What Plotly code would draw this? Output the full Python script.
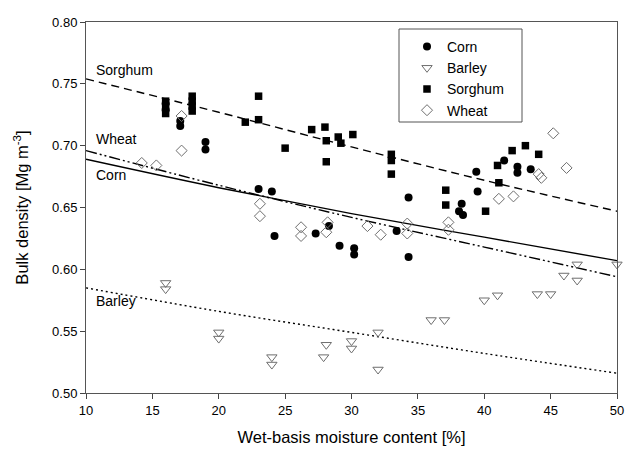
import plotly.graph_objects as go

# Measured bulk density vs wet-basis moisture content
corn_x = [16, 16, 17.1, 17.1, 19, 19, 23, 24, 24.2, 27.3, 28.3, 29.1, 30.2, 30.2,
          33.4, 34.3, 34.3, 38.1, 38.3, 38.4, 39.4, 39.5, 41.5, 42.5, 42.5, 43.5]
corn_y = [0.734, 0.729, 0.720, 0.716, 0.703, 0.697, 0.665, 0.663, 0.627, 0.629,
          0.635, 0.619, 0.617, 0.612, 0.631, 0.658, 0.610, 0.647, 0.653, 0.644,
          0.679, 0.663, 0.688, 0.683, 0.678, 0.681]

barley_x = [16, 16, 20, 20, 24, 24, 28.1, 27.9, 30, 30, 32, 32, 36, 37, 40, 41,
            44, 45, 46, 47, 47, 50]
barley_y = [0.589, 0.584, 0.549, 0.544, 0.529, 0.523, 0.539, 0.529, 0.542, 0.536,
            0.549, 0.519, 0.559, 0.559, 0.575, 0.579, 0.580, 0.580, 0.595, 0.591,
            0.604, 0.604]

sorghum_x = [16, 16, 16, 18, 18, 18, 18, 22, 23, 23, 25, 27, 28, 28.1, 28.1, 29,
             29.2, 30.1, 33, 33, 33, 37.1, 37.1, 40.1, 41, 41.1, 42.1, 43.1, 44.1]
sorghum_y = [0.736, 0.731, 0.726, 0.740, 0.736, 0.732, 0.728, 0.719, 0.740, 0.721,
             0.698, 0.713, 0.715, 0.704, 0.687, 0.707, 0.702, 0.709, 0.693, 0.688,
             0.677, 0.664, 0.652, 0.647, 0.684, 0.670, 0.696, 0.700, 0.693]

wheat_x = [14.2, 15.3, 17.2, 17.2, 23.1, 23.1, 26.2, 26.2, 28.2, 28.1, 31.2, 32.2,
           34.2, 34.2, 37.3, 37.3, 41.1, 42.2, 44.1, 44.3, 45.2, 46.2]
wheat_y = [0.686, 0.684, 0.724, 0.696, 0.653, 0.643, 0.634, 0.627, 0.638, 0.630,
           0.635, 0.628, 0.637, 0.629, 0.638, 0.632, 0.657, 0.659, 0.677, 0.674,
           0.710, 0.682]

# Fitted trend curves, sampled along the moisture range
fit_x = [10, 20, 30, 40, 50]
fit_sorghum = [0.754, 0.727, 0.699, 0.672, 0.647]
fit_wheat = [0.696, 0.668, 0.642, 0.618, 0.594]
fit_corn = [0.689, 0.666, 0.645, 0.626, 0.607]
fit_barley = [0.585, 0.566, 0.549, 0.532, 0.516]

x_ticks = [10, 15, 20, 25, 30, 35, 40, 45, 50]
y_ticks = [0.50, 0.55, 0.60, 0.65, 0.70, 0.75, 0.80]

FONT = "Liberation Sans, Arial, sans-serif"
GRAY = "#6e6e6e"

# plot-area geometry in pixels (used for paper-coordinate placement)
W, H = 625, 454
ML, MR, MT, MB = 86, 8, 22, 61
PW, PH = W - ML - MR, H - MT - MB


def px_to_paper(px, py):
    return (px - ML) / PW, (H - MB - py) / PH


fig = go.Figure()

# trend curves (no legend entries)
curve_styles = [
    (fit_sorghum, "8px,5px"),
    (fit_wheat, "11px,3px,2px,3px,2px,3px"),
    (fit_corn, "solid"),
    (fit_barley, "2px,3px"),
]
for ys, dash in curve_styles:
    fig.add_trace(go.Scatter(x=fit_x, y=ys, mode="lines", showlegend=False,
                             line=dict(color="black", width=1.4, dash=dash, shape="spline"),
                             hoverinfo="skip"))

fig.add_trace(go.Scatter(x=corn_x, y=corn_y, mode="markers", name="Corn",
                         marker=dict(symbol="circle", size=8, color="black"),
                         cliponaxis=False))
fig.add_trace(go.Scatter(x=barley_x, y=barley_y, mode="markers", name="Barley",
                         marker=dict(symbol="triangle-down-open", size=9, color=GRAY,
                                     line=dict(width=1, color=GRAY)),
                         cliponaxis=False))
fig.add_trace(go.Scatter(x=sorghum_x, y=sorghum_y, mode="markers", name="Sorghum",
                         marker=dict(symbol="square", size=7.5, color="black"),
                         cliponaxis=False))
fig.add_trace(go.Scatter(x=wheat_x, y=wheat_y, mode="markers", name="Wheat",
                         marker=dict(symbol="diamond-open", size=8.5, color=GRAY,
                                     line=dict(width=1, color=GRAY)),
                         cliponaxis=False))

# curve labels
for txt, yv in [("Sorghum", 0.761), ("Wheat", 0.705), ("Corn", 0.676), ("Barley", 0.574)]:
    fig.add_annotation(x=10.6, y=yv, text=txt, showarrow=False, xanchor="left",
                       yanchor="middle", font=dict(size=14, color="black", family=FONT))

# legend frame
bx0, by0 = px_to_paper(399, 122)
bx1, by1 = px_to_paper(522, 29)
fig.add_shape(type="rect", xref="paper", yref="paper", x0=bx0, x1=bx1, y0=by0, y1=by1,
              line=dict(color="#555555", width=1), fillcolor="white", layer="below")

lx, ly = px_to_paper(407, 31)

fig.update_layout(
    width=W, height=H,
    margin=dict(l=ML, r=MR, t=MT, b=MB, autoexpand=False),
    paper_bgcolor="white", plot_bgcolor="white",
    font=dict(family=FONT, size=13, color="black"),
    showlegend=True,
    legend=dict(x=lx, y=ly, xanchor="left", yanchor="top",
                bgcolor="rgba(0,0,0,0)", borderwidth=0,
                font=dict(size=14, family=FONT), tracegroupgap=0, itemwidth=30),
    xaxis=dict(range=[10, 50], tickvals=x_ticks, ticks="outside", ticklen=5,
               tickcolor="#444", showgrid=False, zeroline=False, showline=True,
               linecolor="#555", linewidth=1, mirror=True, automargin=False,
               tickfont=dict(size=13, family=FONT),
               title=dict(text="Wet-basis moisture content [%]", font=dict(size=16.5, family=FONT),
                          standoff=14)),
    yaxis=dict(range=[0.50, 0.80], tickvals=y_ticks, tickformat=".2f", ticks="outside",
               ticklen=5, tickcolor="#444", showgrid=False, zeroline=False, showline=True,
               linecolor="#555", linewidth=1, mirror=True, automargin=False,
               tickfont=dict(size=13, family=FONT),
               title=dict(text="Bulk density [Mg m<sup>-3</sup>]", font=dict(size=16.5, family=FONT),
                          standoff=19)),
)

fig.write_html("out.html")
